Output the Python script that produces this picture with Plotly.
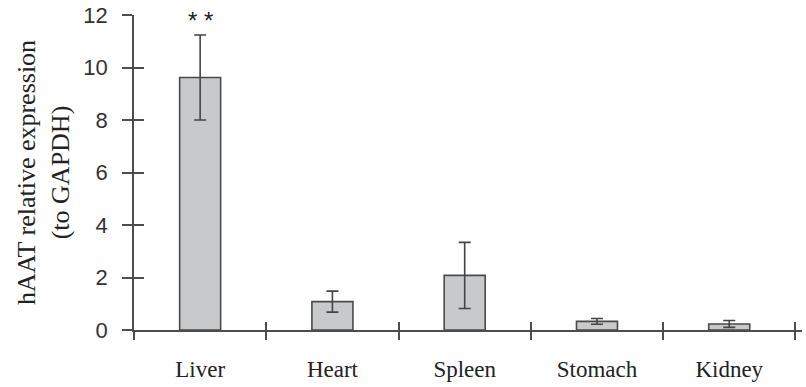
import plotly.graph_objects as go

categories = ["Liver", "Heart", "Spleen", "Stomach", "Kidney"]
values = [9.62, 1.08, 2.08, 0.33, 0.23]
errors = [1.62, 0.40, 1.26, 0.11, 0.13]
y_ticks = [0, 2, 4, 6, 8, 10, 12]
boundaries = [-0.5, 0.5, 1.5, 2.5, 3.5, 4.5]
significance = "* *"

axis_color = "#4d4d4d"
serif = "Liberation Serif, Times New Roman, serif"
sans = "Liberation Sans, Arial, sans-serif"

x_range = [-0.5, 4.55]
y_range = [0, 12]

fig = go.Figure()
fig.add_trace(go.Bar(
    x=categories, y=values, width=0.31,
    marker=dict(color="#c8c9cb", line=dict(color="#4a4a4a", width=1.6)),
    error_y=dict(type="data", array=errors, visible=True,
                 color="#444444", thickness=1.6, width=6),
    showlegend=False,
))
# invisible trace that activates the overlay axes (inward half of the crossing ticks)
fig.add_trace(go.Scatter(x=[x_range[0]], y=[y_range[0]], xaxis="x2", yaxis="y2",
                         mode="markers", marker=dict(opacity=0, size=1),
                         showlegend=False, hoverinfo="skip"))

fig.add_annotation(x=categories[0], y=values[0] + errors[0], text=significance,
                   showarrow=False, yanchor="bottom", yshift=-1,
                   font=dict(family=sans, size=24, color="#222222"))

fig.update_layout(
    width=806, height=387,
    margin=dict(l=134, r=4, t=15, b=57),
    plot_bgcolor="white", paper_bgcolor="white",
    xaxis=dict(
        type="category", range=x_range, tickson="boundaries",
        ticks="outside", ticklen=8, tickwidth=1.6, tickcolor=axis_color,
        showline=True, linecolor=axis_color, linewidth=1.8,
        showgrid=False, zeroline=False,
        tickfont=dict(family=serif, size=23, color="#222222"),
        ticklabelstandoff=17, automargin=False,
    ),
    xaxis2=dict(
        overlaying="x", anchor="y2", range=x_range, tickvals=boundaries,
        ticks="inside", ticklen=8, tickwidth=1.6, tickcolor=axis_color,
        showticklabels=False, showgrid=False, zeroline=False, showline=False,
    ),
    yaxis=dict(
        range=y_range, tickvals=y_ticks,
        ticks="outside", ticklen=10, tickwidth=1.6, tickcolor=axis_color,
        showline=True, linecolor=axis_color, linewidth=1.8,
        showgrid=False, zeroline=False,
        tickfont=dict(family=sans, size=22, color="#333333"),
        ticklabelstandoff=10,
        title=dict(text="hAAT relative expression<br>(to GAPDH)",
                   font=dict(family=serif, size=26, color="#222222"),
                   standoff=6),
        automargin=False,
    ),
    yaxis2=dict(
        overlaying="y", anchor="x2", range=y_range, tickvals=y_ticks,
        ticks="inside", ticklen=10, tickwidth=1.6, tickcolor=axis_color,
        showticklabels=False, showgrid=False, zeroline=False, showline=False,
    ),
)

fig.write_html("out.html", config={"displayModeBar": False},
               post_script="document.body.style.margin='0';")
